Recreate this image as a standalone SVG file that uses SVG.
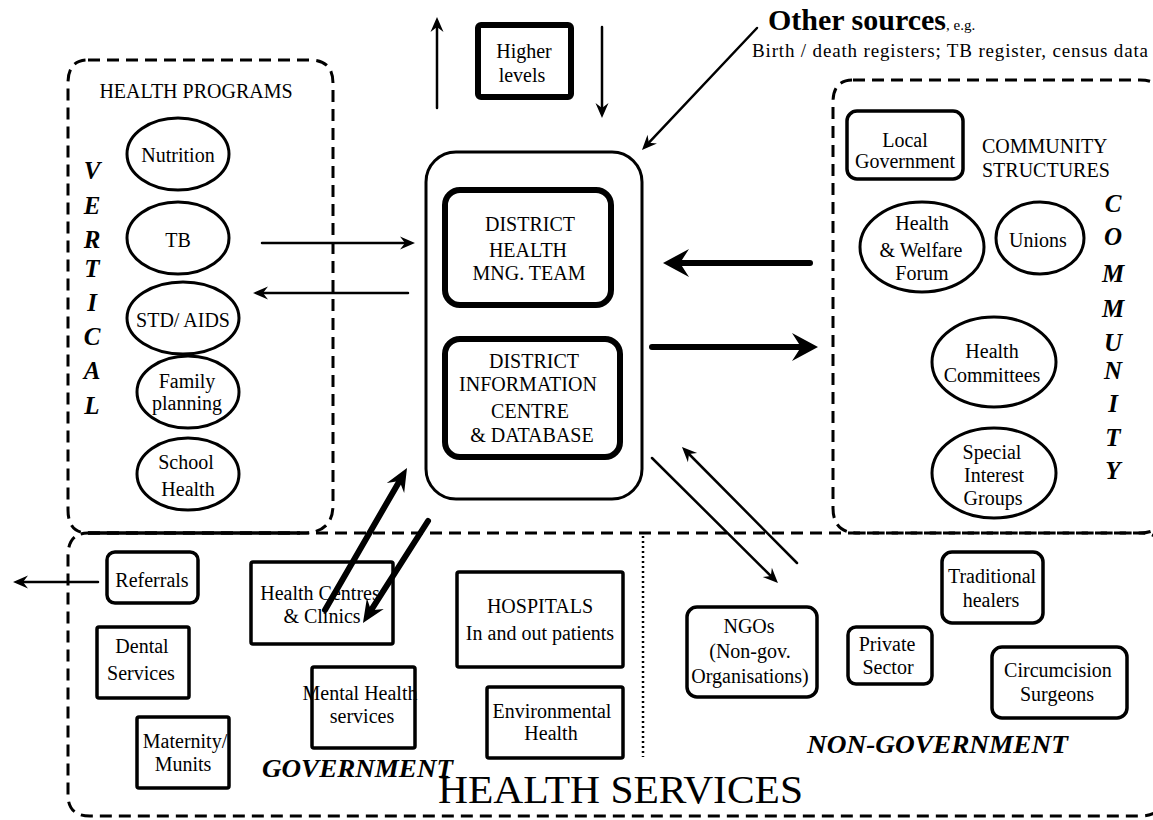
<svg xmlns="http://www.w3.org/2000/svg" width="1153" height="820" viewBox="0 0 1153 820">
<style>
.t{font-family:'Liberation Serif','Times New Roman',serif;font-size:20px;text-anchor:middle;fill:#000}
.s{text-anchor:start}
.bi{font-weight:bold;font-style:italic;font-size:25px}
.box{fill:#fff;stroke:#000;stroke-width:3.5}
.thk{fill:#fff;stroke:#000;stroke-width:6}
.ell{fill:#fff;stroke:#000;stroke-width:3}
.dash{fill:none;stroke:#000;stroke-width:3;stroke-dasharray:12 7}
.thin{fill:none;stroke:#000;stroke-width:2.5;stroke-linecap:round}
.fat{fill:none;stroke:#000;stroke-width:6;stroke-linecap:round}
</style>
<defs>
<marker id="ah" markerUnits="userSpaceOnUse" viewBox="-16 -8 17 16" markerWidth="17" markerHeight="16" refX="-5" refY="0" orient="auto">
<path d="M0,0 L-15,-6.5 L-10,0 L-15,6.5 Z" fill="#000"/>
</marker>
<marker id="ahb" markerUnits="userSpaceOnUse" viewBox="-28 -15 29 30" markerWidth="29" markerHeight="30" refX="-12" refY="0" orient="auto">
<path d="M0,0 L-26,-14 L-17,0 L-26,14 Z" fill="#000"/>
</marker>
<marker id="ahm" markerUnits="userSpaceOnUse" viewBox="-24 -12 25 24" markerWidth="25" markerHeight="24" refX="-12" refY="0" orient="auto">
<path d="M0,0 L-23,-10 L-15,0 L-23,10 Z" fill="#000"/>
</marker>
</defs>
<rect width="1153" height="820" fill="#fff"/>

<g id="health-programs">
<path class="dash" d="M88,60 H310 Q333,60 333,83 V505 Q333,533 303,533 H88 Q68,533 68,510 V83 Q68,60 88,60 Z"/>
<path d="M88,533 H300" stroke="#000" stroke-width="3.5" fill="none"/>
<text class="t" x="196" y="98">HEALTH PROGRAMS</text>
<g class="t bi">
<text x="92" y="179">V</text><text x="92" y="214">E</text><text x="92" y="248">R</text><text x="92" y="277">T</text>
<text x="92" y="311">I</text><text x="92" y="345">C</text><text x="92" y="379">A</text><text x="92" y="414">L</text>
</g>
</g>
<g id="community-box">
<path class="dash" d="M853,80 H1140 Q1165,80 1165,105 V508 Q1165,533 1140,533 H858 Q833,533 833,508 V102 Q833,80 853,80 Z"/>
<text class="t s" x="982" y="153">COMMUNITY</text>
<text class="t s" x="982" y="177">STRUCTURES</text>
<g class="t bi">
<text x="1113" y="212">C</text><text x="1113" y="245">O</text><text x="1113" y="282">M</text><text x="1113" y="317">M</text>
<text x="1113" y="351">U</text><text x="1113" y="379">N</text><text x="1113" y="412">I</text><text x="1113" y="446">T</text><text x="1113" y="479">Y</text>
</g>
</g>
<g id="health-services-box">
<path class="dash" d="M88,533 H1140 Q1165,533 1165,558 V792 Q1165,816 1140,816 H90 Q68,816 68,795 V556 Q68,533 88,533 Z"/>
<line x1="643" y1="536" x2="643" y2="757" stroke="#000" stroke-width="2.5" stroke-dasharray="2 3"/>
<text class="t s" x="438" y="803" style="font-size:40px" textLength="365" lengthAdjust="spacingAndGlyphs">HEALTH SERVICES</text>
<text class="t s bi" x="262" y="777" textLength="191" lengthAdjust="spacingAndGlyphs">GOVERNMENT</text>
<text class="t s bi" x="807" y="753" textLength="261" lengthAdjust="spacingAndGlyphs">NON-GOVERNMENT</text>
</g>

<g id="other-sources">
<text class="t s" x="768" y="30" style="font-size:30px;font-weight:bold">Other sources<tspan style="font-size:15px;font-weight:normal">, e.g.</tspan></text>
<text class="t s" x="752" y="57" style="font-size:19px" textLength="396" lengthAdjust="spacing">Birth / death registers; TB register, census data</text>
</g>

<g id="nutrition"><ellipse class="ell" cx="178" cy="154" rx="51" ry="36"/><text class="t" x="178" y="162">Nutrition</text></g>
<g id="tb"><ellipse class="ell" cx="178" cy="238" rx="51" ry="36"/><text class="t" x="178" y="247">TB</text></g>
<g id="std-aids"><ellipse class="ell" cx="183" cy="318" rx="56" ry="36"/><text class="t" x="183" y="327">STD/ AIDS</text></g>
<g id="family-planning"><ellipse class="ell" cx="188" cy="392" rx="51" ry="36"/><text class="t" x="187" y="388">Family</text><text class="t" x="187" y="410">planning</text></g>
<g id="school-health"><ellipse class="ell" cx="188" cy="474" rx="51" ry="36"/><text class="t" x="186" y="469">School</text><text class="t" x="188" y="496">Health</text></g>

<g id="higher-levels"><rect class="thk" x="478" y="25" width="93" height="72" rx="3"/><text class="t" x="524" y="58">Higher</text><text class="t" x="522" y="82">levels</text></g>

<g id="district-office"><rect fill="#fff" stroke="#000" stroke-width="3" x="426" y="152" width="216" height="347" rx="30"/></g>
<g id="dhmt"><rect class="thk" x="445" y="190" width="166" height="115" rx="15"/>
<text class="t" x="530" y="231">DISTRICT</text><text class="t" x="528" y="257">HEALTH</text><text class="t" x="529" y="280">MNG. TEAM</text></g>
<g id="info-centre"><rect class="thk" x="445" y="339" width="175" height="118" rx="15"/>
<text class="t" x="534" y="368">DISTRICT</text><text class="t" x="528" y="391">INFORMATION</text><text class="t" x="530" y="418">CENTRE</text><text class="t" x="532" y="442">&amp; DATABASE</text></g>

<g id="local-government"><rect class="box" x="847" y="111" width="116" height="68" rx="10"/><text class="t" x="905" y="147">Local</text><text class="t" x="905" y="168">Government</text></g>
<g id="health-welfare-forum"><ellipse class="ell" cx="922" cy="247" rx="62" ry="45"/><text class="t" x="922" y="230">Health</text><text class="t" x="921" y="257">&amp; Welfare</text><text class="t" x="922" y="280">Forum</text></g>
<g id="unions"><ellipse class="ell" cx="1040" cy="238" rx="44" ry="36"/><text class="t" x="1038" y="247">Unions</text></g>
<g id="health-committees"><ellipse class="ell" cx="994" cy="362" rx="62" ry="45"/><text class="t" x="992" y="358">Health</text><text class="t" x="992" y="382">Committees</text></g>
<g id="special-interest-groups"><ellipse class="ell" cx="994" cy="473" rx="62" ry="45"/><text class="t" x="992" y="459">Special</text><text class="t" x="994" y="482">Interest</text><text class="t" x="993" y="505">Groups</text></g>

<g id="referrals"><rect class="box" x="107" y="552" width="91" height="51" rx="8"/><text class="t" x="152" y="587">Referrals</text></g>
<g id="dental"><rect class="box" x="97" y="627" width="92" height="71" rx="2"/><text class="t" x="142" y="653">Dental</text><text class="t" x="141" y="680">Services</text></g>
<g id="maternity"><rect class="box" x="137" y="717" width="92" height="71" rx="2"/><text class="t" x="185" y="748">Maternity/</text><text class="t" x="183" y="771">Munits</text></g>
<g id="health-centres"><rect class="box" x="251" y="562" width="142" height="82" rx="2"/><text class="t" x="320" y="600">Health Centres</text><text class="t" x="322" y="623">&amp; Clinics</text></g>
<g id="mental-health"><rect class="box" x="312" y="667" width="103" height="81" rx="2"/><text class="t" x="360" y="700">Mental Health</text><text class="t" x="362" y="723">services</text></g>
<g id="hospitals"><rect class="box" x="457" y="572" width="166" height="95" rx="2"/><text class="t" x="540" y="613">HOSPITALS</text><text class="t" x="540" y="640">In and out patients</text></g>
<g id="environmental-health"><rect class="box" x="487" y="687" width="136" height="71" rx="2"/><text class="t" x="552" y="718">Environmental</text><text class="t" x="551" y="740">Health</text></g>
<g id="ngos"><rect class="box" x="687" y="607" width="130" height="90" rx="10"/><text class="t" x="749" y="633">NGOs</text><text class="t" x="750" y="658">(Non-gov.</text><text class="t" x="750" y="683">Organisations)</text></g>
<g id="private-sector"><rect class="box" x="848" y="627" width="84" height="57" rx="8"/><text class="t" x="887" y="651">Private</text><text class="t" x="888" y="674">Sector</text></g>
<g id="traditional-healers"><rect class="box" x="942" y="552" width="101" height="71" rx="10"/><text class="t" x="992" y="583">Traditional</text><text class="t" x="991" y="607">healers</text></g>
<g id="circumcision-surgeons"><rect class="box" x="992" y="647" width="135" height="71" rx="10"/><text class="t" x="1058" y="677">Circumcision</text><text class="t" x="1057" y="701">Surgeons</text></g>

<g id="connectors">
<line class="thin" x1="437" y1="108" x2="437" y2="22" marker-end="url(#ah)"/>
<line class="thin" x1="602" y1="27" x2="602" y2="113" marker-end="url(#ah)"/>
<line class="thin" x1="757" y1="28" x2="645.4" y2="146.4" marker-end="url(#ah)"/>
<line class="thin" x1="262" y1="243" x2="410" y2="243" marker-end="url(#ah)"/>
<line class="thin" x1="408" y1="293" x2="258" y2="293" marker-end="url(#ah)"/>
<line class="fat" x1="810" y1="263" x2="675" y2="263" marker-end="url(#ahb)"/>
<line class="fat" x1="652" y1="347" x2="806" y2="347" marker-end="url(#ahb)"/>
<line class="thin" x1="652" y1="458" x2="774.4" y2="579.5" marker-end="url(#ah)"/>
<line class="thin" x1="797" y1="563" x2="685.5" y2="450.5" marker-end="url(#ah)"/>
<line class="fat" x1="325" y1="610" x2="401" y2="478.4" marker-end="url(#ahm)"/>
<line class="fat" x1="428" y1="521" x2="369.4" y2="612.9" marker-end="url(#ahm)"/>
<line class="thin" x1="98" y1="582" x2="18" y2="582" marker-end="url(#ah)"/>
</g>
</svg>
